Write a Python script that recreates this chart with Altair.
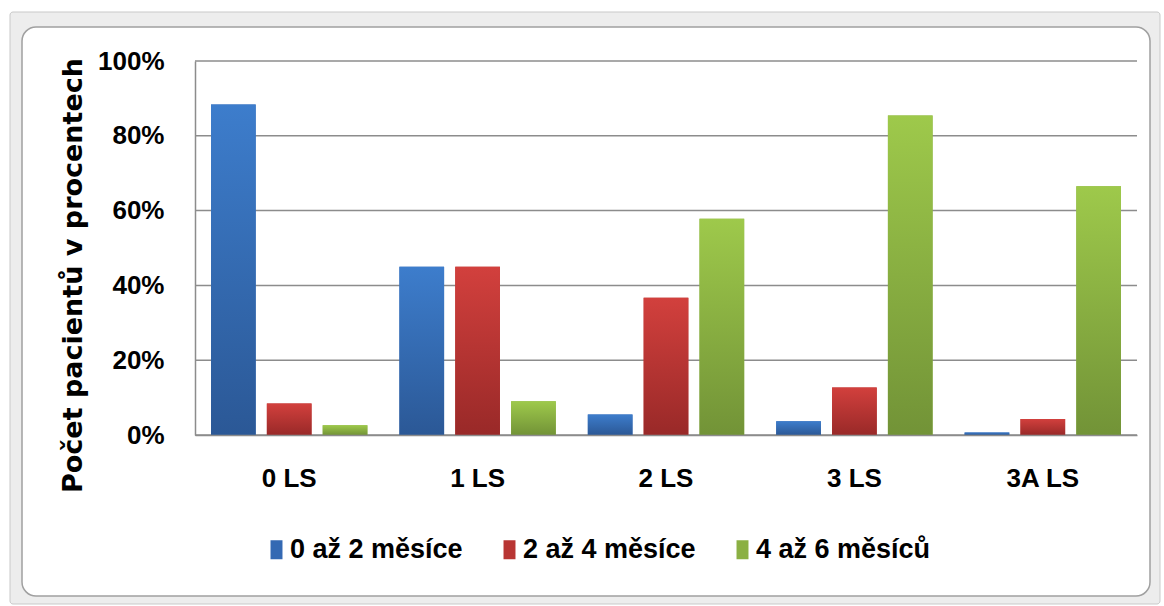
import altair as alt
import pandas as pd

categories = ["0 LS", "1 LS", "2 LS", "3 LS", "3A LS"]
series = ["0 až 2 měsíce", "2 až 4 měsíce", "4 až 6 měsíců"]
vals_0_2 = [88.4, 45.0, 5.5, 3.7, 0.7]
vals_2_4 = [8.4, 45.0, 36.7, 12.7, 4.3]
vals_4_6 = [2.6, 9.0, 57.8, 85.4, 66.5]
y_ticks = [0, 20, 40, 60, 80, 100]

rows = []
for s, vals in zip(series, [vals_0_2, vals_2_4, vals_4_6]):
    for c, v in zip(categories, vals):
        rows.append({"cat": c, "series": s, "value": v})
df = pd.DataFrame(rows)
grid_df = pd.DataFrame({"value": y_ticks})

W, H = 942, 374
LEFT, TOP = 195, 61
FONT = "Liberation Sans Narrow, Liberation Sans, sans-serif"

solid = ["#3469b3", "#b83533", "#8bb043"]
def grad(top, bottom):
    return {"gradient": "linear", "x1": 0, "y1": 0, "x2": 0, "y2": 1,
            "stops": [{"offset": 0, "color": top}, {"offset": 1, "color": bottom}]}
grads = [grad("#3d7dcc", "#2b5896"), grad("#d2403d", "#992928"), grad("#9ec94b", "#729337")]

x_enc = alt.X("cat:N", sort=categories,
              scale=alt.Scale(paddingInner=0.17, paddingOuter=0.085),
              axis=alt.Axis(title=None, labelAngle=0, ticks=False, tickSize=0,
                            labelPadding=30, labelFont=FONT, labelFontSize=26,
                            labelFontWeight="bold", labelColor="#000000",
                            domainColor="#8c8c8c", domainWidth=1.5, zindex=1))
xo_enc = alt.XOffset("series:N", sort=series,
                     scale=alt.Scale(paddingInner=0.2, paddingOuter=0))
y_scale = alt.Scale(domain=[0, 100], nice=False)
y_enc = alt.Y("value:Q", scale=y_scale,
              axis=alt.Axis(values=y_ticks, labelExpr="datum.value + '%'",
                            title="Počet pacientů v procentech",
                            titleFont="DejaVu Sans", titleFontSize=27, titleFontWeight="bold",
                            titleColor="#000000", titleAngle=270, titleX=-122, titleY=214,
                            titleAlign="center", titleBaseline="middle",
                            ticks=False, tickSize=0, labelPadding=31,
                            labelFont=FONT, labelFontSize=26, labelFontWeight="bold",
                            labelColor="#000000", grid=False,
                            domainColor="#8c8c8c", domainWidth=1.5, zindex=1))

one = pd.DataFrame({"a": [0]})
outer = alt.Chart(one).mark_rect(fill="#ededed", stroke="#c9c9c9", strokeWidth=1,
                                 cornerRadius=3).encode(
    x=alt.value(10 - LEFT), x2=alt.value(1160 - LEFT),
    y=alt.value(12 - TOP), y2=alt.value(604 - TOP))
inner = alt.Chart(one).mark_rect(fill="#ffffff", stroke="#a0a0a0", strokeWidth=1.5,
                                 cornerRadius=14).encode(
    x=alt.value(22 - LEFT), x2=alt.value(1150 - LEFT),
    y=alt.value(27 - TOP), y2=alt.value(596 - TOP))

gridlines = alt.Chart(grid_df).mark_rule(color="#8c8c8c", strokeWidth=1.5).encode(
    y=alt.Y("value:Q", scale=y_scale), x=alt.value(0), x2=alt.value(W))

base = alt.Chart(df).mark_bar().encode(
    x=x_enc, xOffset=xo_enc, y=y_enc,
    color=alt.Color("series:N", sort=series,
                    scale=alt.Scale(domain=series, range=solid),
                    legend=alt.Legend(title=None, orient="none", direction="horizontal",
                                      legendX=272 - LEFT - 9, legendY=536 - TOP,
                                      symbolType="M-0.63,-1L0.63,-1L0.63,1L-0.63,1Z",
                                      symbolSize=361, symbolStrokeWidth=0,
                                      labelFont=FONT, labelFontSize=27,
                                      labelFontWeight="bold", labelColor="#000000",
                                      labelOffset=0, columnPadding=33,
                                      labelLimit=400)))

top = alt.Chart(df).mark_bar().encode(
    x=x_enc, xOffset=xo_enc, y=y_enc,
    color=alt.when(alt.datum.series == series[0]).then(alt.value(grads[0]))
             .when(alt.datum.series == series[1]).then(alt.value(grads[1]))
             .otherwise(alt.value(grads[2])))

chart = alt.layer(outer, inner, gridlines, base, top).properties(
    width=W, height=H,
    autosize=alt.AutoSizeParams(type="none"),
    padding={"left": LEFT, "top": TOP, "right": 1164 - LEFT - W, "bottom": 606 - TOP - H},
    background="#ffffff",
).configure_view(stroke=None)

chart.save("out.html", embed_options={"renderer": "svg", "actions": False})
